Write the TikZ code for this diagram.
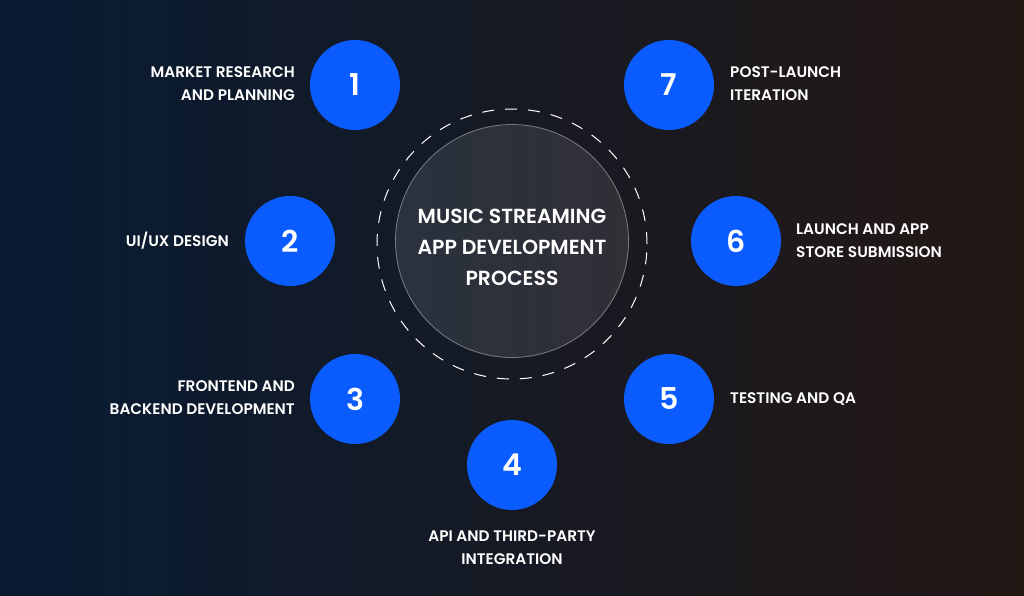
\documentclass[tikz,border=0pt]{standalone}
\usepackage{fontspec}
\setmainfont{Poppins}[UprightFont=* SemiBold]
\usetikzlibrary{positioning}
\definecolor{stepblue}{HTML}{0A5CFF}
\definecolor{bgleft}{HTML}{0A2240}
\definecolor{bgright}{HTML}{2E1F1B}
\tikzset{
  stepdisc/.style={circle, fill=stepblue, minimum size=90pt, inner sep=0pt,
    text=white, font=\fontsize{30}{30}\selectfont},
  steplabel/.style={text=white, font=\fontsize{15.3}{23}\selectfont, inner sep=0pt},
}
\begin{document}
\begin{tikzpicture}[x=1pt, y=-1pt]
  \shade[left color=bgleft, right color=bgright] (0,0) rectangle (1024,596);
  \fill[black, opacity=0.2] (0,0) rectangle (1024,596);
  \useasboundingbox (0,0) rectangle (1024,596);

  % centre
  \draw[white, dash pattern=on 12pt off 11pt, line width=1pt] (512,244) circle (135pt);
  \node (centre) [circle, minimum size=233pt, fill=white, fill opacity=0.1,
    draw=white, draw opacity=0.4, line width=0.8pt] at (512,241) {};
  \node (title) [text=white, align=center, font=\fontsize{20.4}{31}\selectfont]
    at (512,247) {MUSIC STREAMING\\APP DEVELOPMENT\\PROCESS};

  % steps
  \node (s1) [stepdisc] at (355,85) {1};
  \node (s2) [stepdisc] at (290,241) {2};
  \node (s3) [stepdisc] at (355,399) {3};
  \node (s4) [stepdisc] at (512,465) {4};
  \node (s5) [stepdisc] at (669,399) {5};
  \node (s6) [stepdisc] at (736,241) {6};
  \node (s7) [stepdisc] at (669,85) {7};

  % labels
  \node (l1) [steplabel, align=right, anchor=east] at (295,84) {MARKET RESEARCH\\AND PLANNING};
  \node (l2) [steplabel, anchor=east] at (229,241) {UI/UX DESIGN};
  \node (l3) [steplabel, align=right, anchor=east] at (295,398) {FRONTEND AND\\BACKEND DEVELOPMENT};
  \node (l4) [steplabel, align=center, below=66pt of s4.center] {API AND THIRD-PARTY\\INTEGRATION};
  \node (l5) [steplabel, anchor=west] at (730,399) {TESTING AND QA};
  \node (l6) [steplabel, align=left, anchor=west] at (796,241) {LAUNCH AND APP\\STORE SUBMISSION};
  \node (l7) [steplabel, align=left, anchor=west] at (730,84) {POST-LAUNCH\\ITERATION};
\end{tikzpicture}
\end{document}
